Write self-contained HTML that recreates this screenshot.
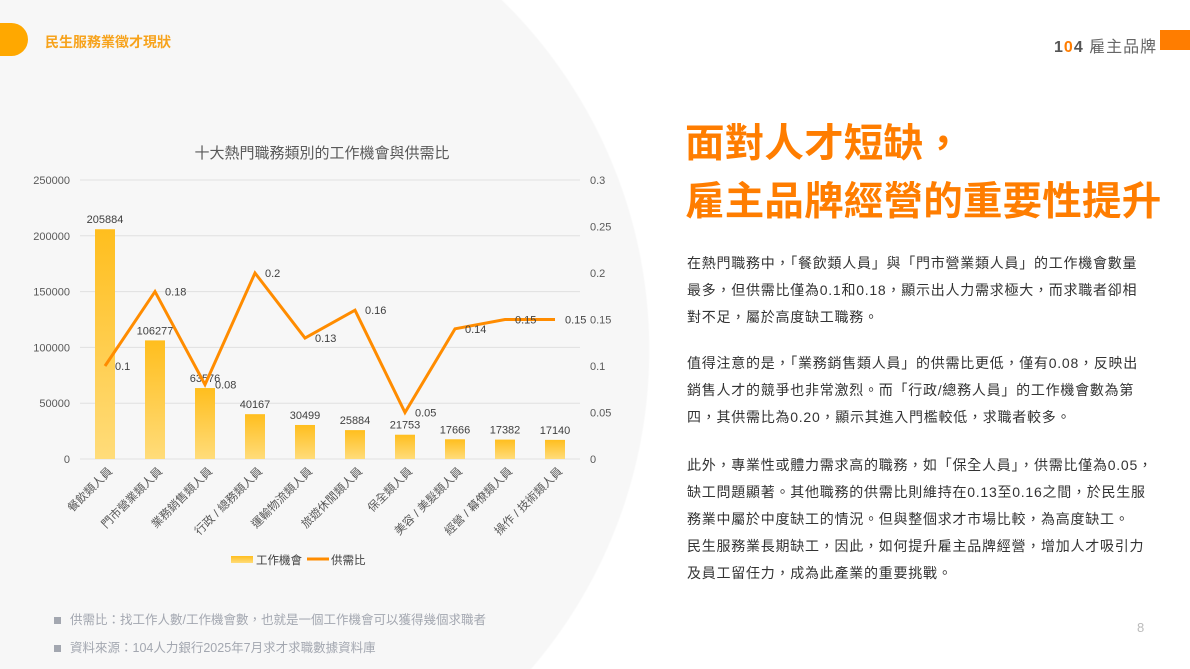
<!DOCTYPE html>
<html style="overflow:hidden;height:669px"><head><meta charset="utf-8"><style>
html,body{margin:0;padding:0;height:669px;overflow:hidden}
#page{width:1190px;height:669px;overflow:hidden;background:radial-gradient(circle 490px at 160px 350px,#f7f7f7 99.7%,#fff 100%);font-family:"Liberation Sans","Noto Sans CJK TC",sans-serif;position:relative}
.p{position:absolute;left:687px;font-size:14px;line-height:27px;color:#333;letter-spacing:0.75px;white-space:nowrap}
.h{position:absolute;left:685px;font-size:39.5px;font-weight:bold;color:#ff7d00;letter-spacing:0.2px;white-space:nowrap}
.fn{position:absolute;left:54px;font-size:12.5px;color:#a3a7b0}
.fn span{display:inline-block;width:7px;height:7px;background:#a3a7b0;margin-right:9px}
</style></head><body>
<div id="page">
<div style="position:absolute;left:-10px;top:23px;width:38px;height:33px;border-radius:0 17px 17px 0;background:#ffa800"></div>
<div style="position:absolute;left:45px;top:32px;font-size:14px;font-weight:bold;color:#f7a31c">民生服務業徵才現狀</div>
<div style="position:absolute;left:1054px;top:33px;font-size:16px;color:#666;letter-spacing:1px"><b style="color:#555">1<span style="color:#ff7d00">0</span>4</b> 雇主品牌</div>
<div style="position:absolute;left:1160px;top:30px;width:30px;height:20px;background:#ff7d00"></div>
<div class="h" style="top:112px">面對人才短缺，</div>
<div class="h" style="top:170px">雇主品牌經營的重要性提升</div>
<div class="p" style="top:250px">在熱門職務中，「餐飲類人員」與「門市營業類人員」的工作機會數量<br>最多，但供需比僅為0.1和0.18，顯示出人力需求極大，而求職者卻相<br>對不足，屬於高度缺工職務。</div>
<div class="p" style="top:350px">值得注意的是，「業務銷售類人員」的供需比更低，僅有0.08，反映出<br>銷售人才的競爭也非常激烈。而「行政/總務人員」的工作機會數為第<br>四，其供需比為0.20，顯示其進入門檻較低，求職者較多。</div>
<div class="p" style="top:452px">此外，專業性或體力需求高的職務，如「保全人員」，供需比僅為0.05，<br>缺工問題顯著。其他職務的供需比則維持在0.13至0.16之間，於民生服<br>務業中屬於中度缺工的情況。但與整個求才市場比較，為高度缺工。<br>民生服務業長期缺工，因此，如何提升雇主品牌經營，增加人才吸引力<br>及員工留任力，成為此產業的重要挑戰。</div>
<div class="fn" style="top:609px"><span></span>供需比：找工作人數/工作機會數，也就是一個工作機會可以獲得幾個求職者</div>
<div class="fn" style="top:637px"><span></span>資料來源：104人力銀行2025年7月求才求職數據資料庫</div>
<div style="position:absolute;left:1137px;top:620px;font-size:13px;color:#bbb">8</div>
<svg id="chart" width="1190" height="669" style="position:absolute;left:0;top:0;display:block">
<defs><linearGradient id="bg" x1="0" y1="0" x2="0" y2="1"><stop offset="0" stop-color="#ffbe1e"/><stop offset="1" stop-color="#ffdc7a"/></linearGradient></defs>
</svg>
</div>
<script>
const categories=["餐飲類人員","門市營業類人員","業務銷售類人員","行政 / 總務類人員","運輸物流類人員","旅遊休閒類人員","保全類人員","美容 / 美髮類人員","經營 / 幕僚類人員","操作 / 技術類人員"];
const jobs=[205884,106277,63576,40167,30499,25884,21753,17666,17382,17140];
const ratio=[0.1,0.18,0.08,0.2,0.13,0.16,0.05,0.14,0.15,0.15];
const leftTicks=[0,50000,100000,150000,200000,250000];
const rightTicks=[0,0.05,0.1,0.15,0.2,0.25,0.3];
const svg=document.getElementById('chart');const NS='http://www.w3.org/2000/svg';
function mk(t,a,txt){const e=document.createElementNS(NS,t);for(const k in a)e.setAttribute(k,a[k]);if(txt!=null)e.textContent=txt;svg.appendChild(e);return e;}
const x0=80,x1=580,yTop=180,yBot=459;
const yL=v=>yBot-(v/250000)*(yBot-yTop);
const yR=v=>yBot-(v/0.3)*(yBot-yTop);
const xC=i=>x0+25+i*50;
let t=mk('text',{x:322,y:158,'text-anchor':'middle','font-size':15,fill:'#595959'},'十大熱門職務類別的工作機會與供需比');

leftTicks.forEach(v=>{let g=mk('line',{x1:x0,x2:x1,y1:yL(v),y2:yL(v),stroke:'#e0e0e0'});
let l=mk('text',{x:70,y:yL(v)+4,'text-anchor':'end','font-size':11,fill:'#595959'},v);});
rightTicks.forEach(v=>{let l=mk('text',{x:590,y:yR(v)+4,'font-size':11,fill:'#595959'},v);});
jobs.forEach((v,i)=>{let b=mk('rect',{x:xC(i)-10,y:yL(v),width:20,height:yBot-yL(v),fill:'url(#bg)'});
let l=mk('text',{x:xC(i),y:yL(v)-6,'text-anchor':'middle','font-size':11,fill:'#404040'},v);
let c=mk('text',{x:xC(i)+8,y:472,'text-anchor':'end','font-size':11.5,fill:'#595959',transform:`rotate(-45 ${xC(i)+8} 472)`},categories[i]);});
let pl=mk('polyline',{points:ratio.map((v,i)=>xC(i)+','+yR(v)).join(' '),fill:'none',stroke:'#ff8c00','stroke-width':3,'stroke-linejoin':'miter'});

ratio.forEach((v,i)=>{let l=mk('text',{x:xC(i)+10,y:yR(v)+4,'font-size':11,fill:'#404040'},v);});
let s1=mk('rect',{x:231,y:556,width:22,height:7,fill:'url(#bg)'});
let t1=mk('text',{x:256,y:564,'font-size':11.5,fill:'#404040'},'工作機會');
let s2=mk('line',{x1:307,x2:329,y1:559,y2:559,stroke:'#ff8c00','stroke-width':3});
let t2=mk('text',{x:331,y:564,'font-size':11.5,fill:'#404040'},'供需比');
</script>
</body></html>
